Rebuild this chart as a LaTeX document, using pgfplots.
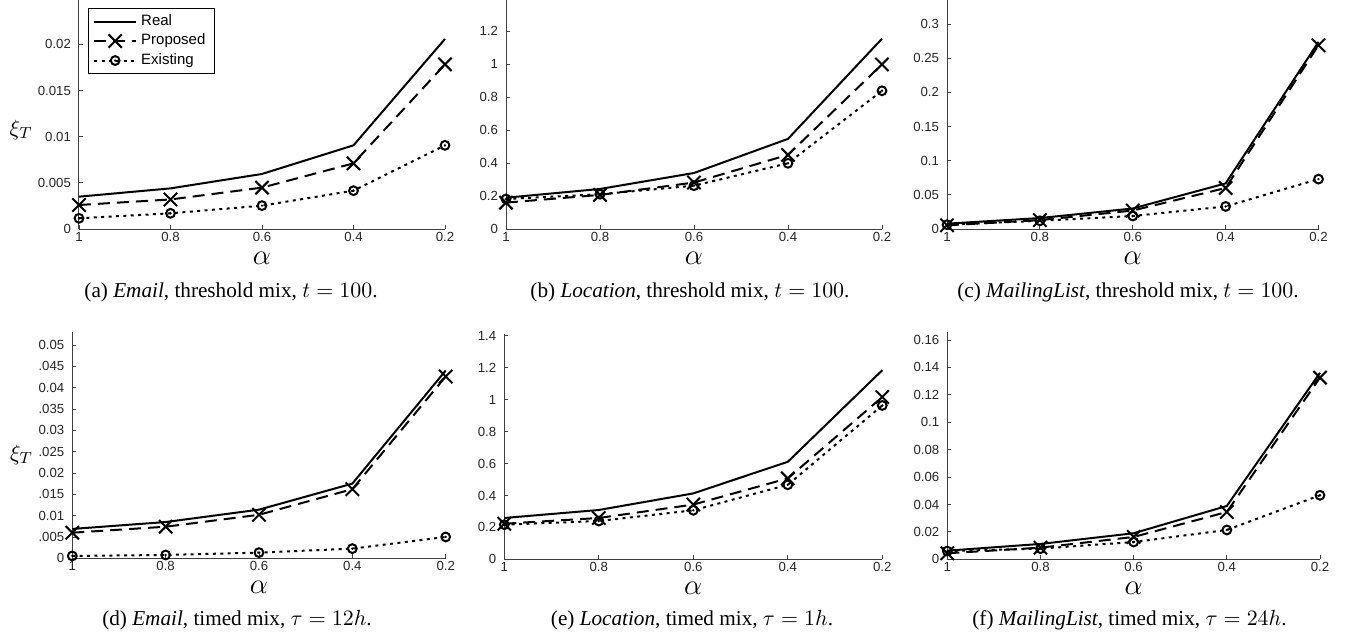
\documentclass[border=0pt]{standalone}
\usepackage{fontspec}
\setmainfont{Liberation Serif}
\newfontfamily\helv{Liberation Sans}
\usepackage{pgfplots}
\pgfplotsset{compat=1.18}

% MATLAB-like circle marker with a dot in the middle
\pgfdeclareplotmark{odot}{%
  \pgfpathcircle{\pgfpointorigin}{\pgfplotmarksize}\pgfusepathqstroke
  \pgfpathcircle{\pgfpointorigin}{0.3\pgfplotmarksize}\pgfusepathqfill}

\pgfplotsset{
  mix/.style={
    scale only axis, x dir=reverse,
    xmin=0.2, xmax=1, ymin=0,
    xtick={0.2,0.4,0.6,0.8,1},
    axis x line*=bottom, axis y line*=left,
    axis line style={black!75, line width=0.5pt, -},
    tick style={black!75, line width=0.4pt},
    major tick length=2pt, tick align=inside,
    tick label style={font=\helv\fontsize{6.6}{8}\selectfont, text=black!85},
    xticklabel style={inner sep=1.5pt},
    yticklabel style={xshift=-0.5pt},
    /pgf/number format/assume math mode=true,
    /pgf/number format/fixed, /pgf/number format/precision=3,
    scaled y ticks=false, scaled x ticks=false,
    xlabel={$\alpha$},
    xlabel style={font=\fontsize{15.5}{17}\selectfont, inner sep=0pt, yshift=-3.5pt},
    clip=false,
    legend image code/.code={%
      \draw[mark repeat=2, mark phase=2, #1] plot coordinates {(0pt,0pt) (10.5pt,0pt) (21pt,0pt)};},
  },
  xiT/.style={ylabel={$\xi_T$},
    ylabel style={rotate=-90, anchor=center, font=\fontsize{11}{13}\selectfont, at={(axis description cs:#1)}}},
  real/.style={black, line width=1pt, solid},
  prop/.style={black, line width=1pt, dash pattern=on 6pt off 3.5pt,
    mark=x, mark size=4.7pt, mark options={solid, line width=1pt}},
  exist/.style={black, line width=1pt, dash pattern=on 1.5pt off 2.2pt,
    mark=odot, mark size=2.2pt, mark options={solid, line width=1pt}},
}

\begin{document}
\begin{tikzpicture}
\useasboundingbox (0,0) rectangle (673.5pt,319pt);

% (a) Email, threshold mix
\begin{axis}[mix, at={(39.5pt,204.5pt)}, anchor=south west,
    width=183pt, height=114.5pt, ymax=0.0248,
    ytick={0,0.005,0.01,0.015,0.02},
    xiT={-0.158,0.432},
    legend style={at={(axis description cs:0.024,0.964)}, anchor=north west,
      font=\helv\fontsize{7.5}{8.5}\selectfont, draw=black, thin,
      inner xsep=2.5pt, inner ysep=1pt, row sep=-1.2pt, cells={anchor=west}}]
\addplot[real] coordinates {(1,0.0035) (0.8,0.0044) (0.6,0.00596) (0.4,0.00906) (0.2,0.02058)};
\addplot[prop] coordinates {(1,0.0026) (0.8,0.0032) (0.6,0.00448) (0.4,0.00711) (0.2,0.01783)};
\addplot[exist] coordinates {(1,0.00116) (0.8,0.0017) (0.6,0.00253) (0.4,0.00415) (0.2,0.00906)};
\legend{Real, Proposed\hspace{6pt}, Existing}
\end{axis}

% (b) Location, threshold mix
\begin{axis}[mix, at={(253pt,204.5pt)}, anchor=south west,
    width=188pt, height=114.5pt, ymax=1.39,
    ytick={0,0.2,0.4,0.6,0.8,1,1.2}]
\addplot[real] coordinates {(1,0.19) (0.8,0.243) (0.6,0.340) (0.4,0.547) (0.2,1.155)};
\addplot[prop] coordinates {(1,0.16) (0.8,0.207) (0.6,0.282) (0.4,0.45) (0.2,0.999)};
\addplot[exist] coordinates {(1,0.182) (0.8,0.211) (0.6,0.263) (0.4,0.399) (0.2,0.839)};
\end{axis}

% (c) MailingList, threshold mix
\begin{axis}[mix, at={(473.5pt,204.5pt)}, anchor=south west,
    width=185.75pt, height=114.5pt, ymax=0.335,
    ytick={0,0.05,0.1,0.15,0.2,0.25,0.3}]
\addplot[real] coordinates {(1,0.0078) (0.8,0.016) (0.6,0.030) (0.4,0.0667) (0.2,0.2736)};
\addplot[prop] coordinates {(1,0.0054) (0.8,0.013) (0.6,0.027) (0.4,0.060) (0.2,0.2688)};
\addplot[exist] coordinates {(1,0.0063) (0.8,0.012) (0.6,0.019) (0.4,0.033) (0.2,0.073)};
\end{axis}

% (d) Email, timed mix
\begin{axis}[mix, at={(36.15pt,39.85pt)}, anchor=south west,
    width=186.7pt, height=113.3pt, ymax=0.0531,
    ytick={0,0.005,0.01,0.015,0.02,0.025,0.03,0.035,0.04,0.045,0.05},
    yticklabels={0,.005,0.01,.015,0.02,.025,0.03,.035,0.04,.045,0.05},
    xiT={-0.136,0.456}]
\addplot[real] coordinates {(1,0.00688) (0.8,0.0085) (0.6,0.0114) (0.4,0.0175) (0.2,0.044)};
\addplot[prop] coordinates {(1,0.006) (0.8,0.0074) (0.6,0.0102) (0.4,0.0162) (0.2,0.0426)};
\addplot[exist] coordinates {(1,0.00055) (0.8,0.00078) (0.6,0.00133) (0.4,0.00227) (0.2,0.005)};
\end{axis}

% (e) Location, timed mix
\begin{axis}[mix, at={(252.15pt,39.35pt)}, anchor=south west,
    width=189pt, height=112.5pt, ymax=1.41,
    ytick={0,0.2,0.4,0.6,0.8,1,1.2,1.4}]
\addplot[real] coordinates {(1,0.259) (0.8,0.309) (0.6,0.413) (0.4,0.611) (0.2,1.185)};
\addplot[prop] coordinates {(1,0.223) (0.8,0.259) (0.6,0.343) (0.4,0.507) (0.2,1.017)};
\addplot[exist] coordinates {(1,0.217) (0.8,0.24) (0.6,0.307) (0.4,0.467) (0.2,0.964)};
\end{axis}

% (f) MailingList, timed mix
\begin{axis}[mix, at={(473.65pt,39.35pt)}, anchor=south west,
    width=186.35pt, height=113.8pt, ymax=0.166,
    ytick={0,0.02,0.04,0.06,0.08,0.1,0.12,0.14,0.16}]
\addplot[real] coordinates {(1,0.0063) (0.8,0.0112) (0.6,0.019) (0.4,0.0389) (0.2,0.136)};
\addplot[prop] coordinates {(1,0.0044) (0.8,0.0085) (0.6,0.0163) (0.4,0.0345) (0.2,0.1325)};
\addplot[exist] coordinates {(1,0.006) (0.8,0.0078) (0.6,0.0126) (0.4,0.0214) (0.2,0.0467)};
\end{axis}

% sub-captions
\begin{scope}[every node/.style={anchor=base, font=\fontsize{10.6}{12}\selectfont}]
\node at (115.5pt,170.5pt) {(a) \textit{Email}, threshold mix, $t=100$.};
\node at (345pt,170.5pt) {(b) \textit{Location}, threshold mix, $t=100$.};
\node at (564pt,170.5pt) {(c) \textit{MailingList}, threshold mix, $t=100$.};
\node at (118.5pt,6.5pt) {(d) \textit{Email}, timed mix, $\tau=12h$.};
\node at (346pt,6.5pt) {(e) \textit{Location}, timed mix, $\tau=1h$.};
\node at (564.75pt,6.5pt) {(f) \textit{MailingList}, timed mix, $\tau=24h$.};
\end{scope}
\end{tikzpicture}
\end{document}
